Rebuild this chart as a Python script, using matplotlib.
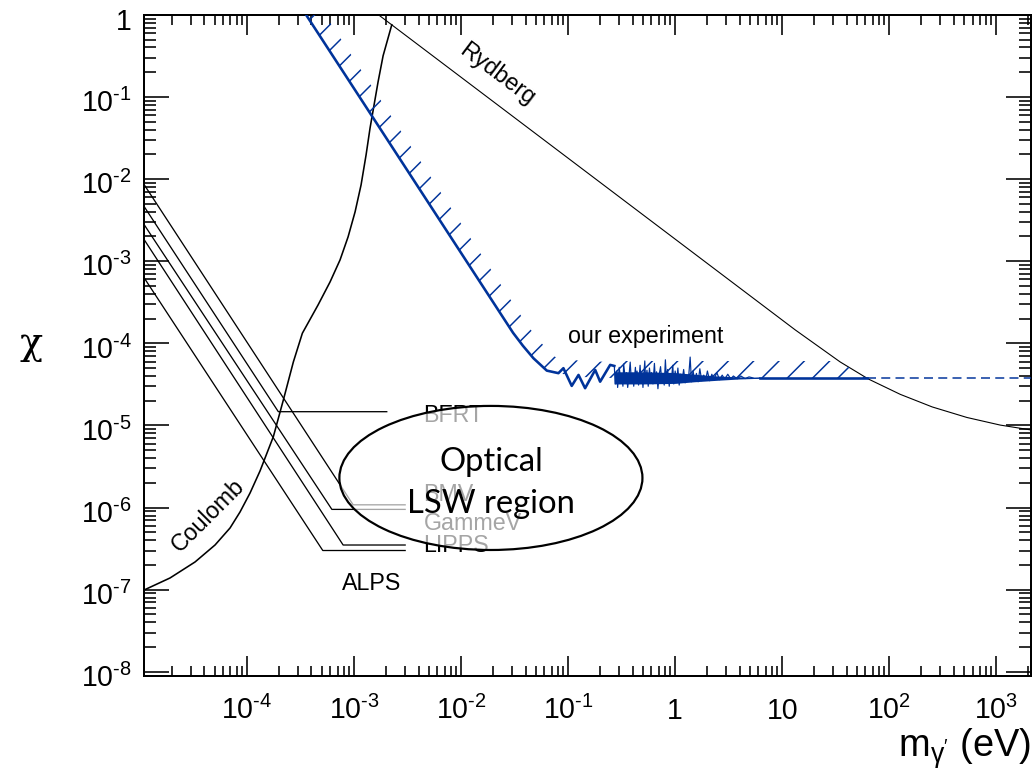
import numpy as np
import matplotlib
matplotlib.use("Agg")
import matplotlib.pyplot as plt
from matplotlib.patches import Ellipse, Polygon
from matplotlib.ticker import FixedLocator, LogLocator, NullFormatter
import matplotlib.transforms as mtransforms

plt.rcParams["font.family"] = "Liberation Sans"
plt.rcParams["mathtext.fontset"] = "custom"
plt.rcParams["mathtext.rm"] = "Liberation Sans"
plt.rcParams["mathtext.it"] = "Liberation Sans:italic"
plt.rcParams["mathtext.default"] = "regular"
plt.rcParams["hatch.linewidth"] = 1.4

######################### Data #########################

Xmin, Xmax = 1.09e-5, 2120.
Ymin, Ymax = 8.9e-9, 1.0

# our experiment (steep part, minimum, first oscillations)
exp_m   = [3.56e-4, 0.0306, 0.0379, 0.0474, 0.0632, 0.0811, 0.0903, 0.108,
           0.125, 0.144, 0.179, 0.199, 0.247, 0.27]
exp_chi = [1.0, 1.34e-4, 9.29e-5, 6.58e-5, 4.65e-5, 4.33e-5, 4.98e-5, 3.03e-5,
           4.12e-5, 2.84e-5, 4.74e-5, 3.41e-5, 5.46e-5, 5.3e-5]

# noisy region: fast oscillation (chi in units of 1e-5)
noise_m   = [0.27, 0.275, 0.285, 0.29, 0.30, 0.31, 0.315, 0.325, 0.33, 0.345,
             0.35, 0.36, 0.37, 0.38, 0.39, 0.40, 0.41, 0.425, 0.43, 0.44,
             0.455, 0.47, 0.48, 0.49, 0.50, 0.52, 0.53, 0.545, 0.56, 0.575,
             0.59, 0.60, 0.62, 0.64, 0.655, 0.67, 0.69, 0.71, 0.73, 0.75,
             0.77, 0.79, 0.81, 0.83, 0.85, 0.88, 0.90, 0.92, 0.95, 0.97,
             1.0, 1.03, 1.06, 1.09, 1.12, 1.16, 1.20, 1.24, 1.29, 1.33,
             1.38, 1.42, 1.47, 1.52, 1.58, 1.64, 1.7, 1.77, 1.85, 1.93,
             2.0, 2.1, 2.2, 2.3, 2.45, 2.6, 2.75, 2.9, 3.1, 3.3,
             3.5, 3.8, 4.1, 4.5, 4.9, 5.5, 6.2]
noise_chi = [5.3, 3.2, 4.6, 2.9, 5.1, 3.6, 4.2, 3.0, 5.6, 3.3,
             4.4, 2.9, 4.0, 5.9, 3.4, 4.3, 3.0, 5.1, 3.8, 4.6,
             3.1, 5.4, 3.5, 4.1, 2.9, 6.1, 3.4, 4.7, 3.0, 5.0,
             3.6, 4.4, 3.2, 5.7, 3.3, 4.5, 2.8, 4.2, 5.2, 3.4,
             4.0, 3.1, 6.3, 3.5, 4.8, 3.0, 4.3, 3.6, 5.4, 3.2,
             4.6, 3.4, 5.0, 3.1, 4.2, 3.5, 4.8, 3.3, 4.1, 3.6,
             6.8, 3.4, 4.6, 3.5, 4.3, 3.4, 4.9, 3.5, 4.1, 3.6,
             4.6, 3.5, 4.2, 3.6, 4.4, 3.6, 4.1, 3.65, 4.2, 3.7,
             4.0, 3.7, 4.0, 3.72, 3.9, 3.75, 3.79]
# dense core of the noisy region
core_m  = [0.27, 0.5, 1.0, 1.5, 2.5, 4.0, 6.2]
core_hi = [4.5e-5, 4.5e-5, 4.4e-5, 4.2e-5, 4.0e-5, 3.9e-5, 3.83e-5]
core_lo = [3.2e-5, 3.2e-5, 3.25e-5, 3.4e-5, 3.55e-5, 3.68e-5, 3.75e-5]

plateau_chi = 3.79e-5
plateau_m   = [6.2, 62.0]          # solid part, dashed afterwards

# smooth edge of excluded region (hatch side)
hatch_m   = [3.56e-4, 0.0306, 0.0379, 0.0474, 0.0632, 0.0811, 0.125, 0.25, 100.]
hatch_chi = [1.0, 1.34e-4, 9.29e-5, 6.58e-5, 4.65e-5, 4.33e-5, 3.9e-5, 3.79e-5, 3.79e-5]

# Rydberg
ryd_m   = [1.69e-3, 13.2, 34.8, 63.7, 126.8, 252., 532., 1089., 2123.]
ryd_chi = [1.0, 1.46e-4, 5.93e-5, 3.68e-5, 2.39e-5, 1.68e-5, 1.25e-5, 1.01e-5, 8.8e-6]

# Coulomb
coul_m   = [1.09e-5, 1.907e-5, 3.266e-5, 5.023e-5, 6.936e-5, 8.60e-5, 1.067e-4,
            1.322e-4, 1.761e-4, 2.184e-4, 2.708e-4, 3.287e-4, 4.61e-4, 5.966e-4,
            7.396e-4, 8.789e-4, 1.0217e-3, 1.1625e-3, 1.2946e-3, 1.4109e-3,
            1.5377e-3, 1.6757e-3, 1.8664e-3, 2.250e-3]
coul_chi = [9.9e-8, 1.389e-7, 2.175e-7, 3.503e-7, 5.643e-7, 8.84e-7, 1.506e-6,
            2.791e-6, 7.306e-6, 2.045e-5, 5.934e-5, 1.327e-4, 2.936e-4, 5.596e-4,
            1.037e-3, 1.977e-3, 3.986e-3, 8.50e-3, 1.971e-2, 4.205e-2,
            8.013e-2, 0.1527, 0.3168, 0.7556]

# optical LSW experiments (start, kink, end)
lsw_names = ["BMV", "BFRT", "GammeV", "LIPPS", "ALPS"]
lsw_m   = [[1.09e-5, 9.8e-4, 3.0e-3],
           [1.09e-5, 1.96e-4, 2.02e-3],
           [1.09e-5, 6.2e-4, 3.0e-3],
           [1.09e-5, 7.9e-4, 3.0e-3],
           [1.09e-5, 5.1e-4, 3.0e-3]]
lsw_chi = [[8.6e-3, 1.08e-6, 1.08e-6],
           [4.65e-3, 1.47e-5, 1.47e-5],
           [2.8e-3, 9.5e-7, 9.5e-7],
           [1.84e-3, 3.5e-7, 3.5e-7],
           [6.3e-4, 3.0e-7, 3.0e-7]]
lsw_lab_m   = [4.43e-3, 4.45e-3, 4.45e-3, 4.45e-3, 7.67e-4]
lsw_lab_chi = [1.21e-6, 1.11e-5, 5.33e-7, 2.88e-7, 9.9e-8]

XTicks  = [1e-4, 1e-3, 1e-2, 1e-1, 1, 10, 100, 1000]
XLabels = [r"$10^{\text{-4}}$", r"$10^{\text{-3}}$", r"$10^{\text{-2}}$",
           r"$10^{\text{-1}}$", "1", "10", r"$10^{2}$", r"$10^{3}$"]
YTicks  = [1e-8, 1e-7, 1e-6, 1e-5, 1e-4, 1e-3, 1e-2, 1e-1, 1]
YLabels = [r"$10^{\text{-8}}$", r"$10^{\text{-7}}$", r"$10^{\text{-6}}$",
           r"$10^{\text{-5}}$", r"$10^{\text{-4}}$", r"$10^{\text{-3}}$",
           r"$10^{\text{-2}}$", r"$10^{\text{-1}}$", "1"]

######################### Style #########################

DPI = 76
PT = 72. / DPI                  # points per pixel
Blue = "#00339a"
TickFontSize = 27
LabelFontSize = 22

######################### Functions #########################

def ExclusionBand(ax, m, chi, width_px):
    pts = ax.transData.transform(np.column_stack([m, chi]))
    d = np.gradient(pts, axis=0)
    n = np.column_stack([-d[:, 1], d[:, 0]])
    n /= np.hypot(n[:, 0], n[:, 1])[:, None]
    off = pts + width_px * n
    poly = np.vstack([pts, off[::-1]])
    return ax.transData.inverted().transform(poly)

######################### Plot #########################

fig = plt.figure(figsize=(1034.2 / DPI, 777.2 / DPI), dpi=DPI)
ax = fig.add_axes([144 / 1034., 1 - 676 / 777., 887 / 1034., 661 / 777.])
ax.set_xscale("log")
ax.set_yscale("log")
ax.set_xlim(Xmin, Xmax)
ax.set_ylim(Ymin, Ymax)

for sp in ax.spines.values():
    sp.set_linewidth(2.0 * PT)

ax.xaxis.set_major_locator(FixedLocator(XTicks))
ax.yaxis.set_major_locator(FixedLocator(YTicks))
for a in (ax.xaxis, ax.yaxis):
    a.set_minor_locator(LogLocator(base=10, subs=np.arange(2, 10), numticks=100))
    a.set_major_formatter(NullFormatter())
    a.set_minor_formatter(NullFormatter())
ax.tick_params(which="both", direction="in", top=True, right=True, width=1.6 * PT)
ax.tick_params(axis="x", which="major", length=20 * PT)
ax.tick_params(axis="x", which="minor", length=10 * PT)
ax.tick_params(axis="y", which="major", length=25 * PT)
ax.tick_params(axis="y", which="minor", length=12 * PT)

# tick labels (ROOT like: baselines aligned)
tx = mtransforms.blended_transform_factory(ax.transData, ax.transAxes)
tx = mtransforms.offset_copy(tx, fig, y=-43, units="dots")
for v, s in zip(XTicks, XLabels):
    ax.text(v, 0, s, transform=tx, ha="center", va="baseline",
            fontsize=TickFontSize, clip_on=False)
ty = mtransforms.blended_transform_factory(ax.transAxes, ax.transData)
ty = mtransforms.offset_copy(ty, fig, x=-12, y=-15, units="dots")
for v, s in zip(YTicks, YLabels):
    ax.text(0, v, s, transform=ty, ha="right", va="baseline",
            fontsize=TickFontSize, clip_on=False)

# LSW experiments
for m, c in zip(lsw_m, lsw_chi):
    ax.plot(m, c, color="black", lw=1.3 * PT, zorder=2)
for name, m, c in zip(lsw_names, lsw_lab_m, lsw_lab_chi):
    ax.text(m, c, name, fontsize=LabelFontSize, ha="left", va="baseline", zorder=3)

# Coulomb and Rydberg
ax.plot(coul_m, coul_chi, color="black", lw=1.6 * PT, zorder=2)
ax.plot(ryd_m, ryd_chi, color="black", lw=1.1 * PT, zorder=2)
ax.text(4.33e-5, 8.13e-7, "Coulomb", fontsize=LabelFontSize, rotation=45,
        rotation_mode="anchor", ha="center", va="center")
ax.text(0.0216, 0.191, "Rydberg", fontsize=LabelFontSize, rotation=-37,
        rotation_mode="anchor", ha="center", va="center")

# hatched exclusion band, cut by the Rydberg curve
band = Polygon(ExclusionBand(ax, hatch_m, hatch_chi, 16), closed=True,
               facecolor="none", edgecolor=Blue, lw=0, hatch="/", zorder=3)
ax.add_patch(band)
clip_xy = list(zip(ryd_m, ryd_chi)) + [(ryd_m[-1], Ymin / 10), (Xmin / 10, Ymin / 10),
                                       (Xmin / 10, Ymax * 10), (ryd_m[0], Ymax * 10)]
band.set_clip_path(Polygon(clip_xy, closed=True, transform=ax.transData))

# our experiment
ax.plot(exp_m, exp_chi, color=Blue, lw=2.6 * PT, zorder=4, solid_joinstyle="round")
ax.fill_between(core_m, core_lo, core_hi, color=Blue, lw=0, zorder=4)
ax.plot(noise_m, np.array(noise_chi) * 1e-5, color=Blue, lw=1.2 * PT, zorder=4)
ax.plot(plateau_m, [plateau_chi] * 2, color=Blue, lw=2.6 * PT, zorder=4)
ax.plot([plateau_m[-1], Xmax], [plateau_chi] * 2, color=Blue, lw=1.5 * PT,
        ls=(0, (6, 3.5)), zorder=4)
ax.text(0.0993, 1.02e-4, "our experiment", fontsize=LabelFontSize,
        ha="left", va="baseline")

# optical LSW region
ax.add_patch(Ellipse((0.391, 0.2995), 0.3416, 0.2179, transform=ax.transAxes,
                     facecolor=(1, 1, 1, 0.65), edgecolor="black",
                     lw=2.2 * PT, zorder=5))
ax.text(0.391, 0.3101, "Optical", transform=ax.transAxes, fontsize=31,
        family="Lato", ha="center", va="baseline", zorder=6)
ax.text(0.391, 0.2470, "LSW region", transform=ax.transAxes, fontsize=31,
        family="Lato", ha="center", va="baseline", zorder=6)

# axis titles
fig.text(31 / 1034., 1 - 344 / 777., "\u03c7", fontsize=36, family="DejaVu Serif",
         ha="center", va="center")
fig.text(1031 / 1034., 1 - 748 / 777., r"$m_{\gamma^{\prime}}$ (eV)", fontsize=36,
         ha="right", va="center")

fig.savefig("out.png", dpi=DPI)
